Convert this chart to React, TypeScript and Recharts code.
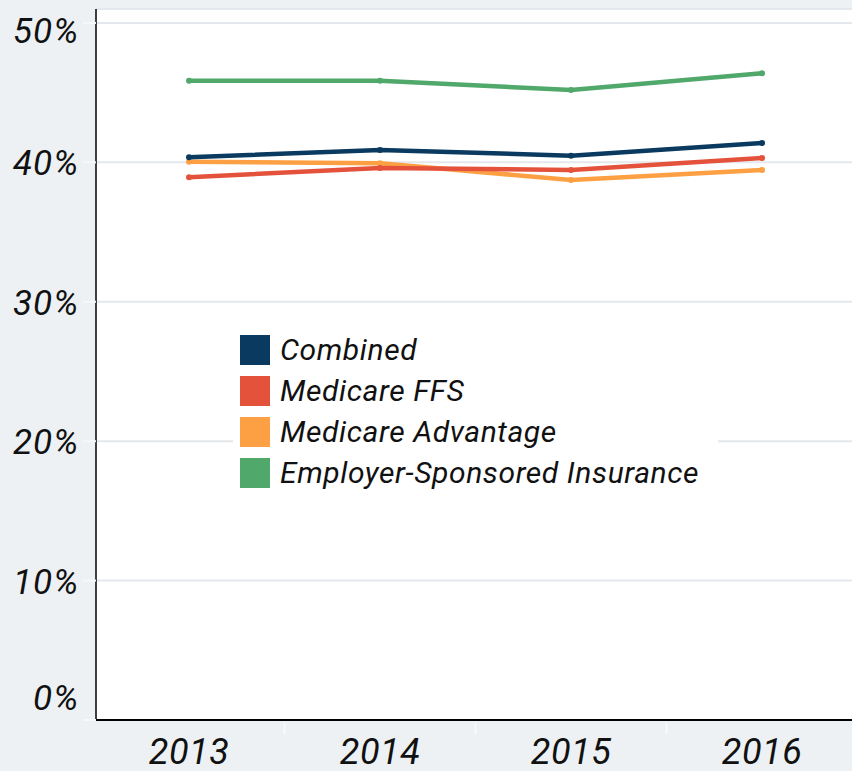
import { LineChart, Line, XAxis, YAxis, CartesianGrid } from "recharts";

const years = ["2013", "2014", "2015", "2016"];
const combined = [40.36, 40.89, 40.48, 41.39];
const medicareFfs = [38.93, 39.6, 39.45, 40.32];
const medicareAdvantage = [40.05, 39.93, 38.74, 39.45];
const employerSponsored = [45.86, 45.86, 45.19, 46.39];

const yTicks = [0, 10, 20, 30, 40, 50];
// boundaries between years get a faint tick, the year itself gets a label
const xTicks = [0, 0.5, 1, 1.5, 2, 2.5, 3];

const series = [
  { key: "esi", name: "Employer-Sponsored Insurance", color: "#50a86b", values: employerSponsored },
  { key: "ma", name: "Medicare Advantage", color: "#fda044", values: medicareAdvantage },
  { key: "ffs", name: "Medicare FFS", color: "#e5523b", values: medicareFfs },
  { key: "combined", name: "Combined", color: "#0a3a5f", values: combined },
];

const legendOrder = ["combined", "ffs", "ma", "esi"];

const data = years.map((year, i) => {
  const row: Record<string, number | string> = { x: i, year };
  series.forEach((s) => {
    row[s.key] = s.values[i];
  });
  return row;
});

const FONT = "Roboto, 'DejaVu Sans', sans-serif";

function XTick({ x, y, payload }: { x?: number; y?: number; payload?: { value: number } }) {
  const v = payload?.value ?? 0;
  if (!Number.isInteger(v)) {
    return <line x1={x} x2={x} y1={(y ?? 0) + 3} y2={(y ?? 0) + 14} stroke="#f8f9fb" strokeWidth={2} />;
  }
  return (
    <text
      x={x}
      y={(y ?? 0) + 44}
      textAnchor="middle"
      fontFamily={FONT}
      fontStyle="italic"
      fontSize={36}
      letterSpacing={0.5}
      fill="#111"
    >
      {years[v]}
    </text>
  );
}

function YTick({ x, y, payload }: { x?: number; y?: number; payload?: { value: number } }) {
  const v = payload?.value ?? 0;
  let shift = 13;
  if (v === 0) shift = -10;
  if (v === 50) shift = 20;
  return (
    <text
      x={(x ?? 0) + 2}
      y={(y ?? 0) + shift}
      textAnchor="end"
      fontFamily={FONT}
      fontStyle="italic"
      fontSize={35}
      letterSpacing={1}
      fill="#111"
    >
      {v}%
    </text>
  );
}

function LegendBox() {
  return (
    <div
      style={{
        position: "absolute",
        left: 233,
        top: 324,
        width: 485,
        background: "#fff",
        padding: "5px 0 6px 7px",
        boxSizing: "border-box",
        fontFamily: FONT,
      }}
    >
      {legendOrder.map((k) => {
        const s = series.find((d) => d.key === k)!;
        return (
          <div key={k} style={{ display: "flex", alignItems: "center", height: 41 }}>
            <span style={{ width: 30, height: 30, background: s.color, display: "inline-block" }} />
            <span style={{ marginLeft: 10, fontSize: 30, fontStyle: "italic", letterSpacing: 0.6, color: "#111" }}>
              {s.name}
            </span>
          </div>
        );
      })}
    </div>
  );
}

export default function App() {
  return (
    <div style={{ position: "absolute", left: 0, top: 0, width: 852, height: 771, background: "#edf1f4" }}>
      <LineChart width={852} height={771} data={data} margin={{ top: 9, right: 0, bottom: 0, left: 0 }}>
        <CartesianGrid vertical={false} fill="#ffffff" stroke="#e4e8ed" strokeWidth={2} />
        <XAxis
          dataKey="x"
          type="number"
          domain={[-0.487, 3.471]}
          ticks={xTicks}
          tick={<XTick />}
          tickLine={false}
          tickSize={0}
          tickMargin={0}
          height={51}
          axisLine={{ stroke: "#000", strokeWidth: 2 }}
          interval={0}
        />
        <YAxis
          domain={[0, 51]}
          ticks={yTicks}
          width={96}
          tick={<YTick />}
          tickSize={13}
          tickMargin={6}
          tickLine={{ stroke: "#f6f7f9", strokeWidth: 2 }}
          axisLine={{ stroke: "#000", strokeWidth: 1.5 }}
          interval={0}
        />
        {series.map((s) => (
          <Line
            key={s.key}
            dataKey={s.key}
            name={s.name}
            stroke={s.color}
            strokeWidth={4.5}
            type="linear"
            dot={{ r: 3, fill: s.color, stroke: s.color, strokeWidth: 0 }}
            activeDot={false}
            isAnimationActive={false}
          />
        ))}
      </LineChart>
      <LegendBox />
    </div>
  );
}
